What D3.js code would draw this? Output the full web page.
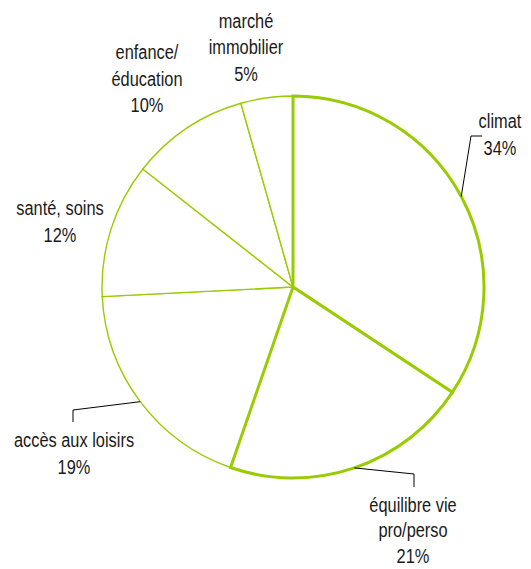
<!DOCTYPE html>
<html><head><meta charset="utf-8">
<script src="https://cdn.jsdelivr.net/npm/d3@7"></script>
<style>body{margin:0;background:#fff}</style>
</head><body><svg id="c" width="531" height="569"></svg>
<script>
// ---- data ----
const categories = ["climat", "équilibre vie pro/perso", "accès aux loisirs", "santé, soins", "enfance/ éducation", "marché immobilier"];
const shares = [34.3, 21.0, 18.9, 11.4, 10.0, 4.4];
const percentLabels = ["34%", "21%", "19%", "12%", "10%", "5%"];
const labelLines = [["climat"], ["équilibre vie", "pro/perso"], ["accès aux loisirs"], ["santé, soins"], ["enfance/", "éducation"], ["marché", "immobilier"]];

// ---- layout ----
const W = 531, H = 569;
const cx = 293, cy = 287, R = 191;
const green = "#99cc00";
const fontSize = 21, squeeze = 0.78;
// label anchor (center x, first baseline, line step) and optional leader elbow/end
const layout = [
  {x: 500, y: 128.5, lh: 26.5, leader: [[471, 136], [482, 136]]},
  {x: 413, y: 512,   lh: 25.5, leader: [[414, 474], [414, 487]]},
  {x: 74,  y: 447.5, lh: 26.5, leader: [[73, 410], [73, 422]]},
  {x: 60,  y: 215.5, lh: 26.5, leader: null},
  {x: 147, y: 59.5,  lh: 26.5, leader: null},
  {x: 246, y: 28,    lh: 26.5, leader: null}
];

const svg = d3.select("#c");
const g = svg.append("g").attr("transform", `translate(${cx},${cy})`);

const pie = d3.pie().sort(null).value(d => d.v);
const arcs = pie(shares.map((v, i) => ({v, i})));
const arc = d3.arc().innerRadius(0).outerRadius(R);

const order = arcs.slice().sort((a, b) => (a.data.i < 2) - (b.data.i < 2));
g.selectAll("path.slice").data(order).join("path")
  .attr("class", "slice")
  .attr("d", arc)
  .attr("fill", "#fff")
  .attr("stroke", green)
  .attr("stroke-linejoin", "miter")
  .attr("stroke-width", d => d.data.i < 2 ? 3 : 1.4);

// leader lines
arcs.forEach((a, i) => {
  const L = layout[i];
  if (!L.leader) return;
  const mid = (a.startAngle + a.endAngle) / 2;
  const p0 = [cx + R * Math.sin(mid), cy - R * Math.cos(mid)];
  const pts = [p0].concat(L.leader);
  svg.append("path")
    .attr("d", d3.line()(pts))
    .attr("fill", "none")
    .attr("stroke", "#000")
    .attr("stroke-width", 1);
});

// labels
arcs.forEach((a, i) => {
  const L = layout[i];
  const lines = labelLines[i].concat([percentLabels[i]]);
  const tg = svg.append("g").attr("transform", `translate(${L.x},0) scale(${squeeze},1)`);
  const t = tg.append("text")
    .attr("text-anchor", "middle")
    .attr("font-family", "'Liberation Sans', Arial, sans-serif")
    .attr("font-size", fontSize)
    .attr("fill", "#1a1a1a");
  lines.forEach((s, k) => {
    t.append("tspan").attr("x", 0).attr("y", L.y + k * L.lh).text(s);
  });
});
</script>
</body></html>
